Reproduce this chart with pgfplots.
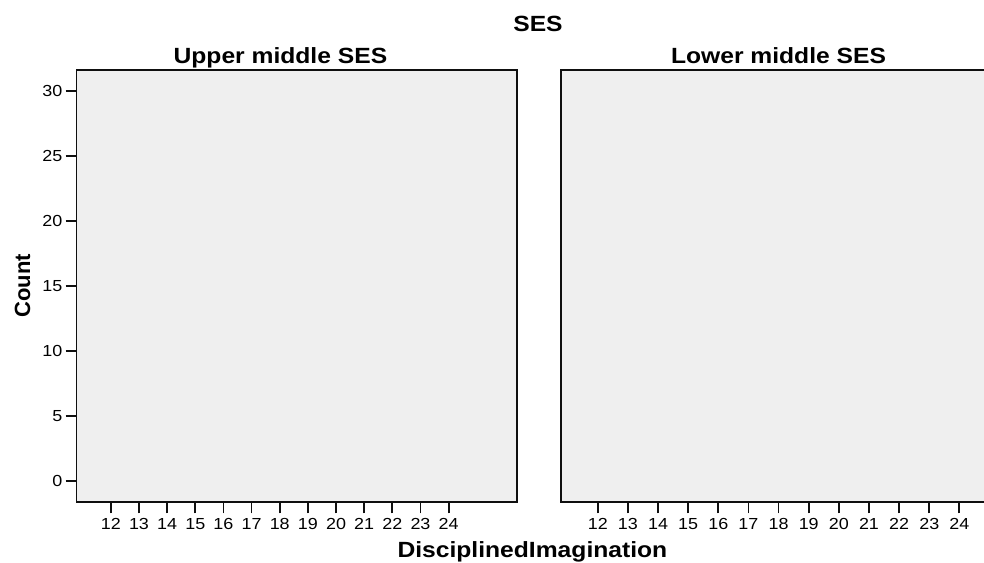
\documentclass[border=0pt]{standalone}
\usepackage{pgfplots}
\pgfplotsset{compat=1.18}
\usepackage{fontspec}
\setmainfont{Liberation Sans}[FakeStretch=1.12]
\newfontfamily\plainsans{Liberation Sans}

\definecolor{panelbg}{RGB}{239,239,239}
\definecolor{frame}{RGB}{15,15,15}

% one SES panel (an empty histogram)
\pgfplotsset{
  sespanel/.style={
    scale only axis,
    anchor=south west,
    height=432.6pt,
    ymin=-1.66, ymax=31.64,
    xmin=10.78, xmax=26.44,
    xtick={12,...,24},
    axis background/.style={fill=panelbg},
    axis line style={frame, line width=1.8pt},
    tick align=outside,
    major tick length=11pt,
    tick style={frame, line width=1.8pt},
    xtick pos=left, ytick pos=left,
    tick label style={font=\fontsize{16}{18}\selectfont},
    /pgf/number format/assume math mode=true,
    xticklabel style={inner sep=0pt, yshift=-5pt},
    yticklabel style={inner sep=0pt, xshift=-3pt},
  }
}

\begin{document}
\begin{tikzpicture}
\path[use as bounding box] (0pt,0pt) rectangle (984pt,562pt);

% Upper middle SES
\begin{axis}[sespanel, at={(76.5pt,59.7pt)}, width=440.8pt,
  ytick={0,5,...,30}]
\end{axis}

% Lower middle SES (cut off at the right edge)
\begin{axis}[sespanel, at={(560.7pt,59.7pt)}, width=472.2pt,
  xmin=10.77, xmax=26.44, ytick=\empty]
\end{axis}

\node[anchor=base, font=\fontsize{22}{26}\selectfont\bfseries] at (538pt,530.3pt) {SES};
\node[anchor=base, font=\fontsize{22}{26}\selectfont\bfseries] at (280.4pt,498.7pt) {Upper middle SES};
\node[anchor=base, font=\fontsize{22}{26}\selectfont\bfseries] at (778.5pt,498.7pt) {Lower middle SES};
\node[anchor=base west, font=\fontsize{22}{26}\selectfont\bfseries] at (394pt,4.3pt) {DisciplinedImagination};
\node[rotate=90, anchor=center, font=\plainsans\fontsize{22}{26}\selectfont\bfseries] at (22.5pt,276pt) {Count};
\end{tikzpicture}
\end{document}
